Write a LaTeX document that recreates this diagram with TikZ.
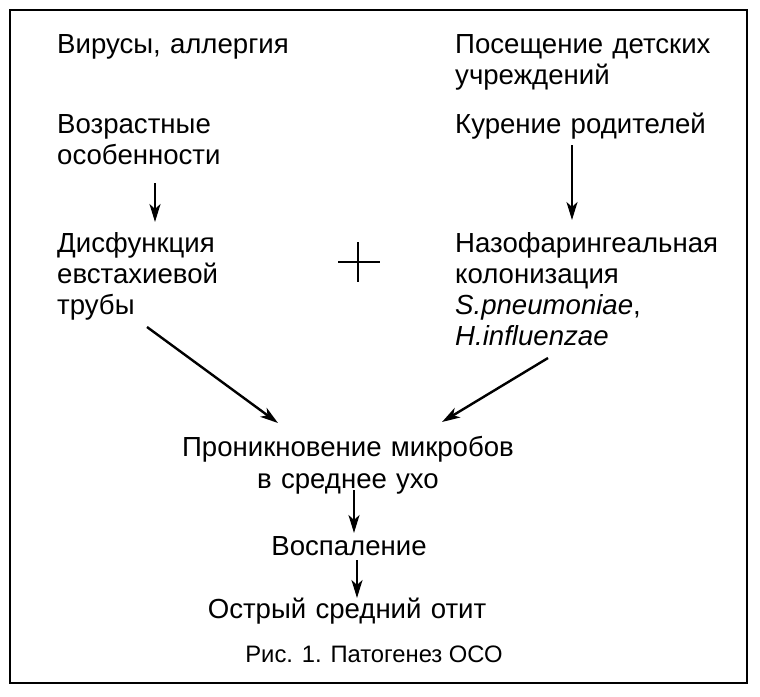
\documentclass[tikz,border=0pt]{standalone}
\usepackage{fontspec}
\setmainfont{Liberation Sans}
\usetikzlibrary{arrows.meta}
\begin{document}
\begin{tikzpicture}[x=1pt,y=-1pt,
  lbl/.style={font=\fontsize{27.6}{31}\selectfont, inner sep=0pt, text width=320pt, align=left, anchor=base west},
  ctr/.style={font=\fontsize{27.6}{32}\selectfont, inner sep=0pt, text width=420pt, align=center, anchor=base},
  capt/.style={font=\fontsize{23.8}{27}\selectfont, inner sep=0pt, anchor=base},
  arr/.style={line width=2.4pt, -{Stealth[length=18pt,width=11pt,inset=5pt]}},
  frame/.style={line width=2.2pt},
  plus/.style={line width=2.2pt}
  ]
\useasboundingbox (0,0) rectangle (760,696);
\fill[white] (0,0) rectangle (760,696);
\draw[frame] (10,10) rectangle (747,683);

\node[lbl] (vir)  at (57,53)  {Вирусы, аллергия};
\node[lbl] (vozr) at (57,133) {Возрастные\\особенности};
\node[lbl] (disf) at (57,252) {Дисфункция\\евстахиевой\\трубы};
\node[lbl] (pos)  at (455,53)  {Посещение детских\\учреждений};
\node[lbl] (kur)  at (455,133) {Курение родителей};
\node[lbl] (naz)  at (455,252) {Назофарингеальная\\колонизация\\\textit{S.pneumoniae},\\\textit{H.influenzae}};
\node[ctr] (pron) at (348,456) {Проникновение микробов\\в среднее ухо};
\node[ctr] (vosp) at (349,555) {Воспаление};
\node[ctr] (ostr) at (347,618) {Острый средний отит};
\node[capt] (ris) at (374,662) {Рис. 1. Патогенез ОСО};

\draw[plus] (338,262) -- (380,262);
\draw[plus] (358,242) -- (358,282);

\coordinate (a1s) at (155,183); \coordinate (a1e) at (155,222);
\coordinate (a2s) at (572,145); \coordinate (a2e) at (572,220);
\coordinate (a3s) at (147,327); \coordinate (a3e) at (278,423);
\coordinate (a4s) at (548,358); \coordinate (a4e) at (442,422);
\coordinate (a5s) at (354,490); \coordinate (a5e) at (354,533);
\coordinate (a6s) at (357,560); \coordinate (a6e) at (357,598);
\draw[arr] (a1s) -- (a1e);
\draw[arr] (a2s) -- (a2e);
\draw[arr] (a3s) -- (a3e);
\draw[arr] (a4s) -- (a4e);
\draw[arr] (a5s) -- (a5e);
\draw[arr] (a6s) -- (a6e);
\end{tikzpicture}
\end{document}
